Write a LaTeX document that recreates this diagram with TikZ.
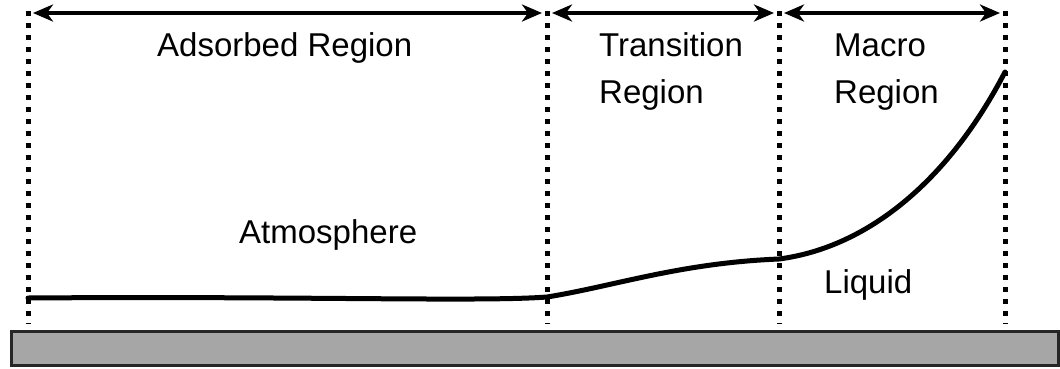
\documentclass[tikz,border=0pt]{standalone}
\usepackage{fontspec}
\setmainfont{Liberation Sans}
\usetikzlibrary{arrows.meta}
\begin{document}
\begin{tikzpicture}[x=1pt,y=-1pt,
  boundary/.style={line width=5pt, dash pattern=on 5pt off 7pt},
  span/.style={line width=4.5pt, {Stealth[length=20pt,width=17pt,inset=6pt]}-{Stealth[length=20pt,width=17pt,inset=6pt]}},
  profile/.style={line width=5pt, line cap=round, line join=round},
  label/.style={font=\fontsize{33}{47}\selectfont, inner sep=0pt, anchor=base west, align=left},
  substrate/.style={draw=black!85, line width=2.5pt, fill=black!35}]
  \useasboundingbox (0,0) rectangle (1060,368);

  % region boundaries
  \foreach \n/\x in {a/28, b/547, c/779, d/1005} {
    \coordinate (\n top) at (\x,11);
    \coordinate (\n bot) at (\x,324);
    \draw[boundary] (\n top) -- (\n bot);
  }

  % span arrows
  \coordinate (a r) at (33,13);  \coordinate (b l) at (542,13);
  \coordinate (b r) at (552,13); \coordinate (c l) at (774,13);
  \coordinate (c r) at (784,13); \coordinate (d l) at (1000,13);
  \draw[span] (a r) -- (b l);
  \draw[span] (b r) -- (c l);
  \draw[span] (c r) -- (d l);

  % substrate
  \node[substrate, minimum width=1047pt, minimum height=34pt, inner sep=0pt, anchor=north west] (plate) at (10,330) {};

  % liquid profile
  \coordinate (p0) at (28,298);
  \coordinate (p1) at (547,297);
  \coordinate (p2) at (779,259);
  \coordinate (p3) at (1005,72);
  \draw[profile] (p0) .. controls (300,296) and (480,302) .. (p1)
                      .. controls (615,286) and (680,263) .. (p2)
                      .. controls (870,247) and (950,178) .. (p3);

  % labels (two-line labels are placed by the baseline of their last line)
  \node[label] (adsorbed) at (157,56) {Adsorbed Region};
  \node[label] (transition) at (599,103) {Transition\\Region};
  \node[label] (macro) at (834,103) {Macro\\Region};
  \node[label] (atmos) at (239,243) {Atmosphere};
  \node[label] (liquid) at (824,293) {Liquid};
\end{tikzpicture}
\end{document}
